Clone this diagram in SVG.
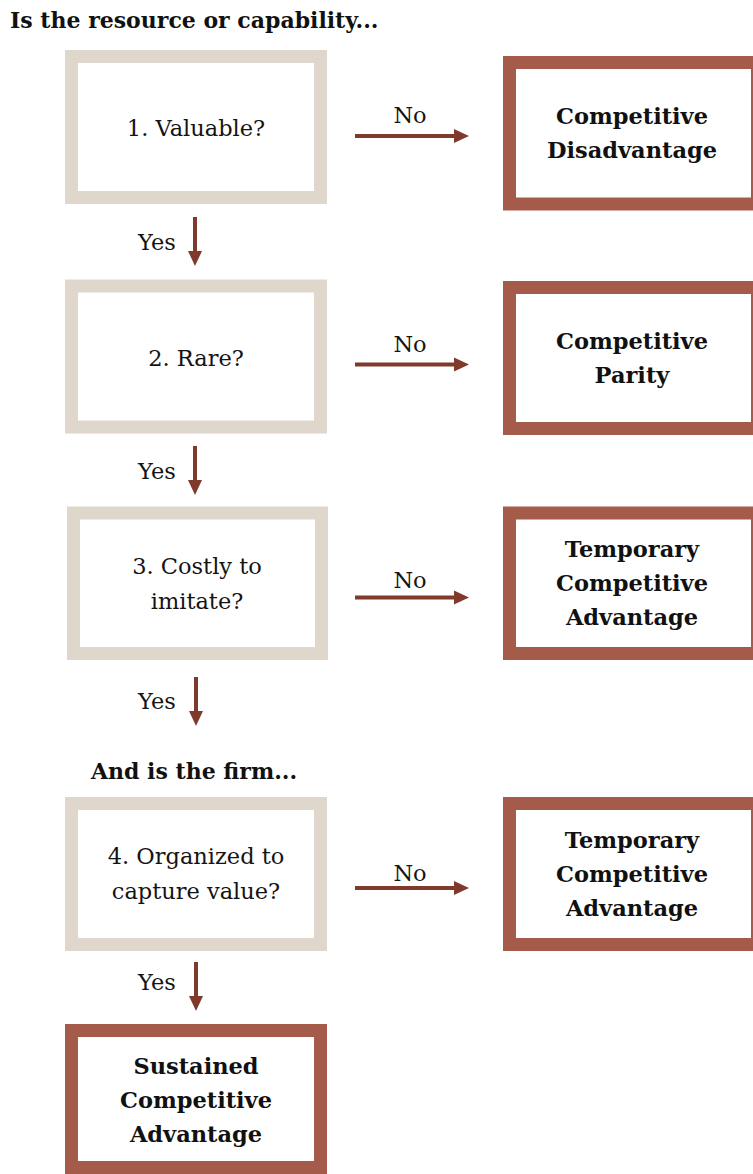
<svg xmlns="http://www.w3.org/2000/svg" width="753" height="1174" viewBox="0 0 753 1174">
  <defs>
    <style>
      .q { fill: #ffffff; stroke: #e0d7cc; stroke-width: 13; }
      .o { fill: #ffffff; stroke: #a45b4a; stroke-width: 13; }
      .t { font-family: "DejaVu Serif", "Liberation Serif", serif; font-size: 22.5px; fill: #141414; text-anchor: middle; }
      .b { font-family: "DejaVu Serif", "Liberation Serif", serif; font-size: 22.5px; font-weight: bold; fill: #111111; text-anchor: middle; }
      .h { font-family: "DejaVu Serif", "Liberation Serif", serif; font-size: 22px; font-weight: bold; fill: #111111; }
      .a { stroke: #7f3a2c; stroke-width: 4; fill: none; }
    </style>
    <marker id="ah" markerUnits="userSpaceOnUse" markerWidth="16" markerHeight="16" viewBox="0 0 16 16" refX="2" refY="8" orient="auto">
      <path d="M0,1 L15,8 L0,15 Z" fill="#7f3a2c"/>
    </marker>
  </defs>
  <rect width="753" height="1174" fill="#ffffff"/>

  <text class="h" x="10" y="28">Is the resource or capability...</text>
  <text class="h" x="91" y="779">And is the firm...</text>

  <g id="q1">
    <rect class="q" x="71.5" y="56.5" width="249" height="141"/>
    <text class="t" x="196" y="136">1. Valuable?</text>
  </g>
  <g id="q2">
    <rect class="q" x="71.5" y="286" width="249" height="141"/>
    <text class="t" x="196" y="366">2. Rare?</text>
  </g>
  <g id="q3">
    <rect class="q" x="73.5" y="513" width="248" height="140.5"/>
    <text class="t" x="197" y="574">3. Costly to</text>
    <text class="t" x="197" y="609">imitate?</text>
  </g>
  <g id="q4">
    <rect class="q" x="71.5" y="803.5" width="249" height="141"/>
    <text class="t" x="196" y="864">4. Organized to</text>
    <text class="t" x="196" y="899">capture value?</text>
  </g>
  <g id="sustained">
    <rect class="o" x="71.5" y="1030.5" width="249" height="137"/>
    <text class="b" x="196" y="1074">Sustained</text>
    <text class="b" x="196" y="1108">Competitive</text>
    <text class="b" x="196" y="1142">Advantage</text>
  </g>

  <g id="r1">
    <rect class="o" x="509.5" y="62.5" width="248" height="141.5"/>
    <text class="b" x="632" y="124">Competitive</text>
    <text class="b" x="632" y="158">Disadvantage</text>
  </g>
  <g id="r2">
    <rect class="o" x="509.5" y="287.5" width="248" height="141"/>
    <text class="b" x="632" y="349">Competitive</text>
    <text class="b" x="632" y="383">Parity</text>
  </g>
  <g id="r3">
    <rect class="o" x="509.5" y="513" width="248" height="140.5"/>
    <text class="b" x="632" y="557">Temporary</text>
    <text class="b" x="632" y="591">Competitive</text>
    <text class="b" x="632" y="625">Advantage</text>
  </g>
  <g id="r4">
    <rect class="o" x="509.5" y="803.5" width="248" height="141"/>
    <text class="b" x="632" y="848">Temporary</text>
    <text class="b" x="632" y="882">Competitive</text>
    <text class="b" x="632" y="916">Advantage</text>
  </g>

  <g id="connectors">
    <line class="a" x1="355" y1="136" x2="456" y2="136" marker-end="url(#ah)"/>
    <line class="a" x1="355" y1="364.5" x2="456" y2="364.5" marker-end="url(#ah)"/>
    <line class="a" x1="355" y1="597.5" x2="456" y2="597.5" marker-end="url(#ah)"/>
    <line class="a" x1="355" y1="888" x2="456" y2="888" marker-end="url(#ah)"/>
    <line class="a" x1="195" y1="217" x2="195" y2="253" marker-end="url(#ah)"/>
    <line class="a" x1="195" y1="446" x2="195" y2="482" marker-end="url(#ah)"/>
    <line class="a" x1="196" y1="677" x2="196" y2="713" marker-end="url(#ah)"/>
    <line class="a" x1="196" y1="962" x2="196" y2="998" marker-end="url(#ah)"/>
    <text class="t" x="410" y="123">No</text>
    <text class="t" x="410" y="352">No</text>
    <text class="t" x="410" y="588">No</text>
    <text class="t" x="410" y="881">No</text>
    <text class="t" x="157" y="250">Yes</text>
    <text class="t" x="157" y="479">Yes</text>
    <text class="t" x="157" y="709">Yes</text>
    <text class="t" x="157" y="990">Yes</text>
  </g>
</svg>
